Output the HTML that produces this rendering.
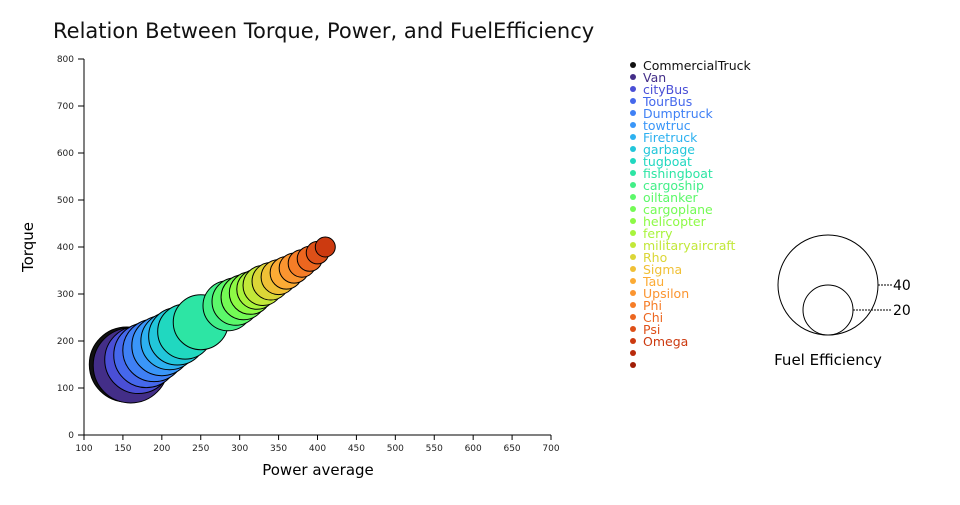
<!DOCTYPE html>
<html><head><meta charset="utf-8"><style>
body{margin:0;background:#fff}
svg text{font-family:"DejaVu Sans","Liberation Sans",sans-serif}
</style></head><body>
<svg id="chart" width="960" height="500">
<text x="53" y="38" font-size="21" fill="#111">Relation Between Torque, Power, and FuelEfficiency</text>
<g id="axes"></g><g id="bubbles"></g><g id="legend"></g>
<g id="sizeLegend">
<circle cx="828" cy="285" r="50" fill="none" stroke="#000"/>
<circle cx="828" cy="310" r="25" fill="none" stroke="#000"/>
<line x1="878" y1="285" x2="892" y2="285" stroke="#000" stroke-dasharray="2,1"/>
<line x1="853" y1="310" x2="892" y2="310" stroke="#000" stroke-dasharray="2,1"/>
<text x="893" y="290" font-size="14">40</text>
<text x="893" y="315" font-size="14">20</text>
<text x="828" y="365" font-size="15" text-anchor="middle">Fuel Efficiency</text>
</g>
</svg>
<script>
const categories=["CommercialTruck","Van","cityBus","TourBus","Dumptruck","towtruc","Firetruck","garbage","tugboat","fishingboat","cargoship","oiltanker","cargoplane","helicopter","ferry","militaryaircraft","Rho","Sigma","Tau","Upsilon","Phi","Chi","Psi","Omega"];
const power=[155,160,170,180,190,200,210,220,230,250,285,295,305,314,322,330,340,350,360,370,380,390,400,410];
const torque=[150,148,160,170,180,190,200,210,220,240,275,284,293,302,310,318,327,336,345,355,365,375,388,400];
const efficiency=[30,30,27,26,25,24,23,23,22,22,20,19,18,17,16,16,15,14,13,12,11,10,9,8];
const xTicks=[100,150,200,250,300,350,400,450,500,550,600,650,700];
const yTicks=[0,100,200,300,400,500,600,700,800];
const colors=["#111111","#432e88","#4a4fd6","#4568ec","#3f80f5","#3a96f8","#2db1f0","#22c6da","#20d8c0","#2de5a4","#42ef87","#5cf86a","#74fb55","#8dfa45","#a8f43c","#c2e839","#dbd637","#f0c036","#fcab35","#fb9530","#f67d27","#ec661f","#de5018","#cc3a10","#b82a0b","#a01d06"];
const NS="http://www.w3.org/2000/svg";
const xS=v=>84+(v-100)*(467/600);
const yS=v=>435-v*(376/800);
const rS=v=>v*1.25;
function mk(t,a,p){const e=document.createElementNS(NS,t);for(const k in a)e.setAttribute(k,a[k]);p.appendChild(e);return e;}
const ax=document.getElementById('axes');
let l=mk('line',{x1:84,y1:435,x2:551,y2:435,stroke:'#000'},ax);


l=mk('line',{x1:84,y1:59,x2:84,y2:435,stroke:'#000'},ax);


xTicks.forEach(v=>{const x=xS(v);
const t=mk('line',{x1:x,y1:435,x2:x,y2:440,stroke:'#000'},ax);


const tx=mk('text',{x:x,y:451,'font-size':9,'text-anchor':'middle',fill:'#222'},ax);tx.textContent=v;

});
yTicks.forEach(v=>{const y=yS(v);
const t=mk('line',{x1:78,y1:y,x2:84,y2:y,stroke:'#000'},ax);


const tx=mk('text',{x:74,y:y+3,'font-size':9,'text-anchor':'end',fill:'#222'},ax);tx.textContent=v;

});
let tt=mk('text',{x:318,y:475,'font-size':15,'text-anchor':'middle'},ax);tt.textContent='Power average';


tt=mk('text',{x:33,y:247,'font-size':15,'text-anchor':'middle',transform:'rotate(-90 33 247)'},ax);tt.textContent='Torque';


const bg=document.getElementById('bubbles');
categories.forEach((c,i)=>{const b=mk('circle',{cx:xS(power[i]),cy:yS(torque[i]),r:rS(efficiency[i]),fill:colors[i],stroke:'#000','stroke-width':1},bg);

});
const lg=document.getElementById('legend');
colors.forEach((col,i)=>{const y=65+i*12;
const d=mk('circle',{cx:633,cy:y,r:3,fill:col},lg);


if(i<categories.length){const t=mk('text',{x:643,y:y+5,'font-size':12.5,fill:col},lg);t.textContent=categories[i];

}});
</script>
</body></html>
